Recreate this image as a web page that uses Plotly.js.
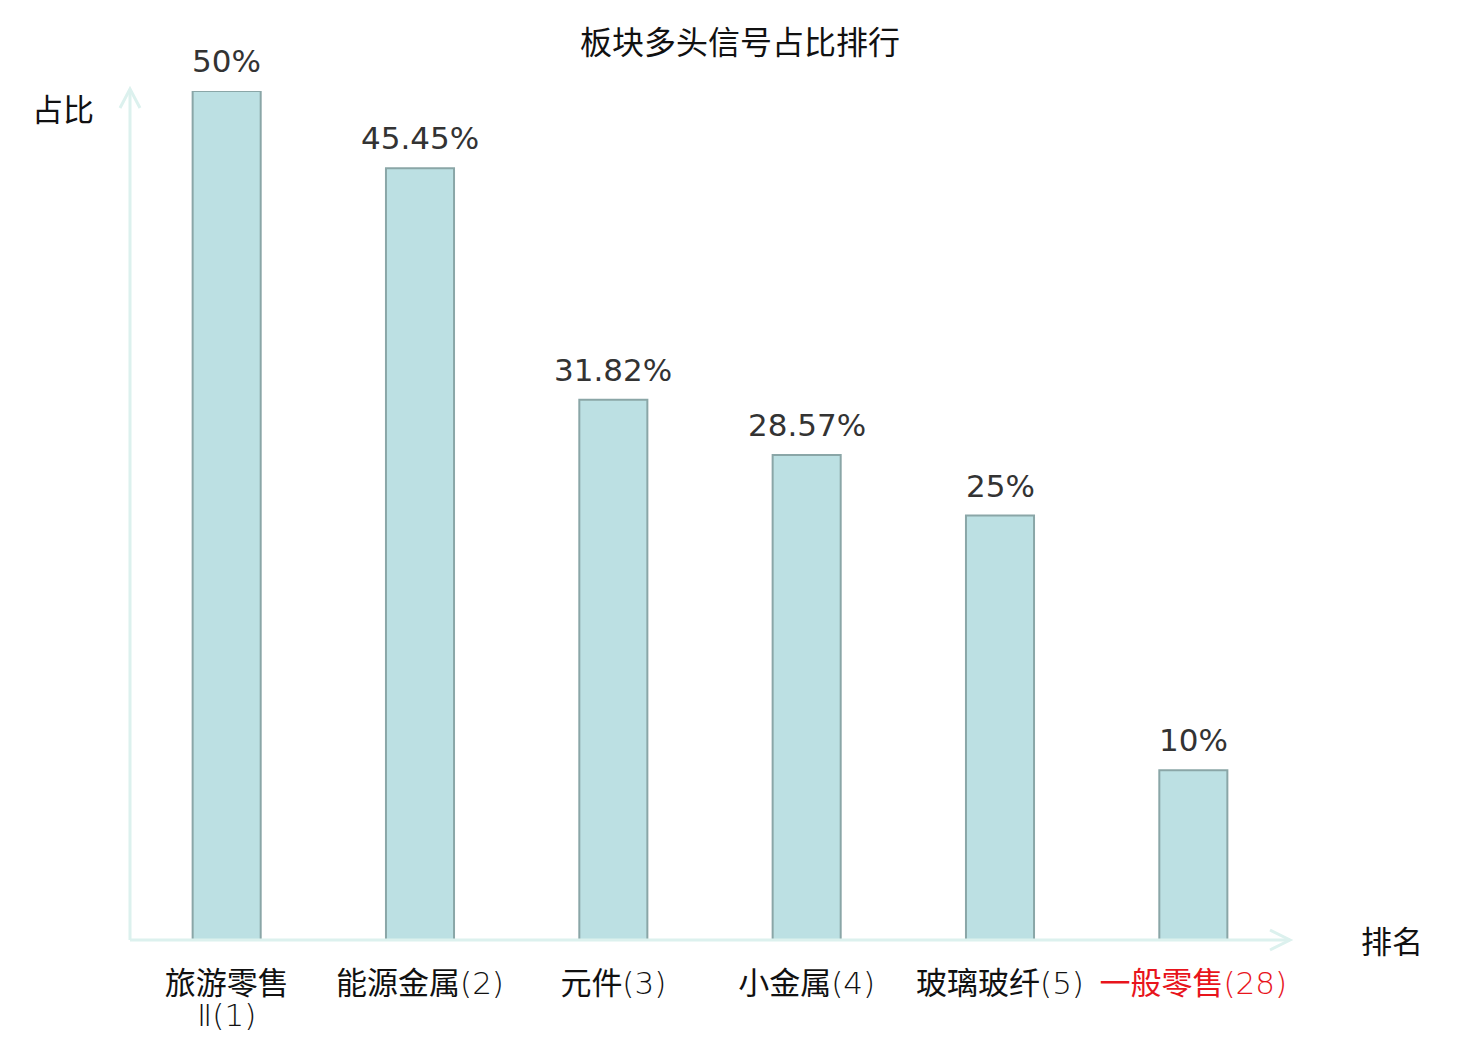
<!DOCTYPE html>
<html><head><meta charset="utf-8">
<script src="https://cdn.plot.ly/plotly-3.0.1.min.js"></script>
<style>html,body{margin:0;padding:0;background:#fff}</style>
</head><body><div id="chart" style="width:1480px;height:1040px"></div>
<script>
const categories = ['旅游零售Ⅱ','能源金属','元件','小金属','玻璃玻纤','一般零售'];
const ranks = [1, 2, 3, 4, 5, 28];
const values = [50, 45.45, 31.82, 28.57, 25, 10];
const valueLabels = ['50%', '45.45%', '31.82%', '28.57%', '25%', '10%'];
const highlight = [false, false, false, false, false, true];

const W = 1480, H = 1040, ML = 130, MR = 190, MT = 91, MB = 100;
const PW = W - ML - MR, PH = H - MT - MB;
const fx = px => (px - ML) / PW;
const fy = py => (H - MB - py) / PH;
const cjk = '"Noto Sans CJK SC", "Noto Sans", sans-serif';
const axisColor = '#dcf1ee';

const big = 'font-size:31px';
const light = "font-size:31px;font-family:'DejaVu Sans';font-weight:200";
const tickLabels = categories.map((c, i) => {
  let head = c, tail = '';
  if (c.endsWith('Ⅱ')) { head = c.slice(0, -1); tail = 'Ⅱ'; }
  let s;
  if (tail) {
    s = `<span style="${big}">${head}</span><br><span style="${light}">${tail}(${ranks[i]})</span>`;
  } else {
    s = `<span style="${big}">${head}</span><span style="${light}">(${ranks[i]})</span>`;
  }
  return highlight[i] ? `<span style="color:#e8141c">${s}</span>` : s;
});

const trace = {
  type: 'bar',
  x: categories,
  y: values,
  marker: {color: '#bce0e3', line: {color: '#8aa6a7', width: 2}},
  hoverinfo: 'skip'
};

const annotations = categories.map((c, i) => ({
  x: c, y: values[i], xref: 'x', yref: 'y',
  text: valueLabels[i], showarrow: false,
  xanchor: 'center', yanchor: 'middle', yshift: 30,
  font: {family: '"DejaVu Sans", sans-serif', size: 31, color: '#333333'}
}));
annotations.push({
  xref: 'paper', yref: 'paper', x: fx(63), y: fy(107), text: '占比', showarrow: false,
  xanchor: 'center', yanchor: 'middle', font: {family: cjk, size: 31, color: '#111111'}
});
annotations.push({
  xref: 'paper', yref: 'paper', x: fx(1392), y: fy(939), text: '排名', showarrow: false,
  xanchor: 'center', yanchor: 'middle', font: {family: cjk, size: 31, color: '#111111'}
});

const P = (x, y) => fx(x) + ',' + fy(y);
const shapes = [
  {type: 'path', xref: 'paper', yref: 'paper', path: 'M' + P(130, 940) + 'L' + P(130, 89), line: {color: axisColor, width: 3}},
  {type: 'path', xref: 'paper', yref: 'paper', path: 'M' + P(120, 108) + 'L' + P(130, 89) + 'L' + P(140, 108), line: {color: axisColor, width: 3}},
  {type: 'path', xref: 'paper', yref: 'paper', path: 'M' + P(130, 940) + 'L' + P(1290, 940), line: {color: axisColor, width: 3}},
  {type: 'path', xref: 'paper', yref: 'paper', path: 'M' + P(1270, 930) + 'L' + P(1290, 940) + 'L' + P(1270, 950), line: {color: axisColor, width: 3}}
];

const layout = {
  width: W, height: H,
  margin: {l: ML, r: MR, t: MT, b: MB},
  paper_bgcolor: '#ffffff', plot_bgcolor: '#ffffff',
  showlegend: false,
  bargap: 0.648,
  title: {text: '板块多头信号占比排行', x: 0.5, xref: 'container', y: 1 - 43 / H, yref: 'container', yanchor: 'middle',
          font: {family: cjk, size: 32, color: '#111111'}},
  xaxis: {
    type: 'category', tickmode: 'array', tickvals: categories, ticktext: tickLabels,
    showline: false, showgrid: false, zeroline: false, ticks: '',
    ticklabelstandoff: 28,
    tickfont: {family: cjk, size: 24.6, color: '#111111'}
  },
  yaxis: {range: [0, 50], visible: false, showgrid: false, zeroline: false},
  annotations: annotations,
  shapes: shapes
};

Plotly.newPlot('chart', [trace], layout, {displayModeBar: false, staticPlot: true});
</script></body></html>
